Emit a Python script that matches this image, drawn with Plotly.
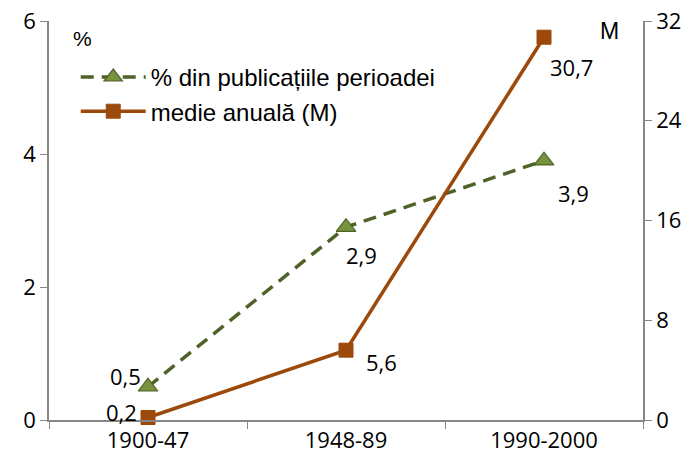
import plotly.graph_objects as go

categories = ["1900-47", "1948-89", "1990-2000"]
pct_values = [0.5, 2.9, 3.9]
pct_labels = ["0,5", "2,9", "3,9"]
mean_values = [0.2, 5.6, 30.7]
mean_labels = ["0,2", "5,6", "30,7"]
left_ticks = [0, 2, 4, 6]
right_ticks = [0, 8, 16, 24, 32]

# label placement styles (pixel offsets from each point)
pct_lbl_style = [("right", -5, 11), ("left", -2, -28), ("left", 12, -32)]
mean_lbl_style = [("right", -9, 6), ("left", 18, -12), ("left", 4, -30)]

FONT = "Open Sans"
LFONT = "Liberation Sans"
AX = "#868686"
GREEN_LINE = "#4F6228"
GREEN_FILL = "#77933C"
ORANGE = "#9C4A0C"
FS = 22

fig = go.Figure()
fig.add_trace(go.Scatter(
    x=categories, y=pct_values, name="% din publicațiile perioadei",
    mode="lines+markers", legendgroup="a",
    line=dict(color=GREEN_LINE, width=3.5, dash="13px,8px"),
    marker=dict(symbol="triangle-up", size=17, color=GREEN_FILL,
                line=dict(color=GREEN_LINE, width=1.2)),
    yaxis="y", cliponaxis=False,
))
fig.add_trace(go.Scatter(
    x=categories, y=mean_values, name="medie anuală (M)",
    mode="lines+markers", legendgroup="b",
    line=dict(color=ORANGE, width=3.5),
    marker=dict(symbol="square", size=14, color=ORANGE,
                line=dict(color=ORANGE, width=1)),
    yaxis="y2", cliponaxis=False,
))

annotations = []
for cat, val, lbl, (anc, dx, dy) in zip(categories, pct_values, pct_labels, pct_lbl_style):
    annotations.append(dict(x=cat, y=val, xref="x", yref="y", text=lbl,
                            showarrow=False, xanchor=anc, yanchor="middle",
                            xshift=dx, yshift=dy,
                            font=dict(family=FONT, size=FS, color="black")))
for cat, val, lbl, (anc, dx, dy) in zip(categories, mean_values, mean_labels, mean_lbl_style):
    annotations.append(dict(x=cat, y=val, xref="x", yref="y2", text=lbl,
                            showarrow=False, xanchor=anc, yanchor="middle",
                            xshift=dx, yshift=dy,
                            font=dict(family=FONT, size=FS, color="black")))
annotations += [
    dict(text="%", x=0.037, y=0.955, xref="paper", yref="paper",
         xanchor="left", yanchor="middle", showarrow=False,
         font=dict(family=LFONT, size=21)),
    dict(text="M", x=0.925, y=0.976, xref="paper", yref="paper",
         xanchor="left", yanchor="middle", showarrow=False,
         font=dict(family=LFONT, size=23)),
]

axis_common = dict(ticks="outside", ticklen=7, tickcolor=AX, showline=True,
                   linecolor=AX, linewidth=1.5, showgrid=False, zeroline=False,
                   automargin=False, tickfont=dict(family=FONT, size=FS))

fig.update_layout(
    width=697, height=468,
    margin=dict(l=49, r=54, t=21, b=48, autoexpand=False),
    paper_bgcolor="white", plot_bgcolor="white",
    font=dict(family=FONT, size=FS, color="black"),
    showlegend=True,
    legend=dict(x=0.045, y=0.915, xanchor="left", yanchor="top",
                bgcolor="rgba(0,0,0,0)", font=dict(family=LFONT, size=24),
                itemwidth=65, tracegroupgap=0, traceorder="grouped"),
    xaxis=dict(type="category", range=[-0.5, 2.5], tickson="boundaries", **axis_common),
    yaxis=dict(range=[0, 6], tickvals=left_ticks, ticklabeloverflow="allow", **axis_common),
    yaxis2=dict(range=[0, 32], tickvals=right_ticks, overlaying="y", side="right",
                ticklabeloverflow="allow", **axis_common),
    annotations=annotations,
)

fig.write_html("out.html", config={"displayModeBar": False},
               post_script="document.body.style.margin='0';")
